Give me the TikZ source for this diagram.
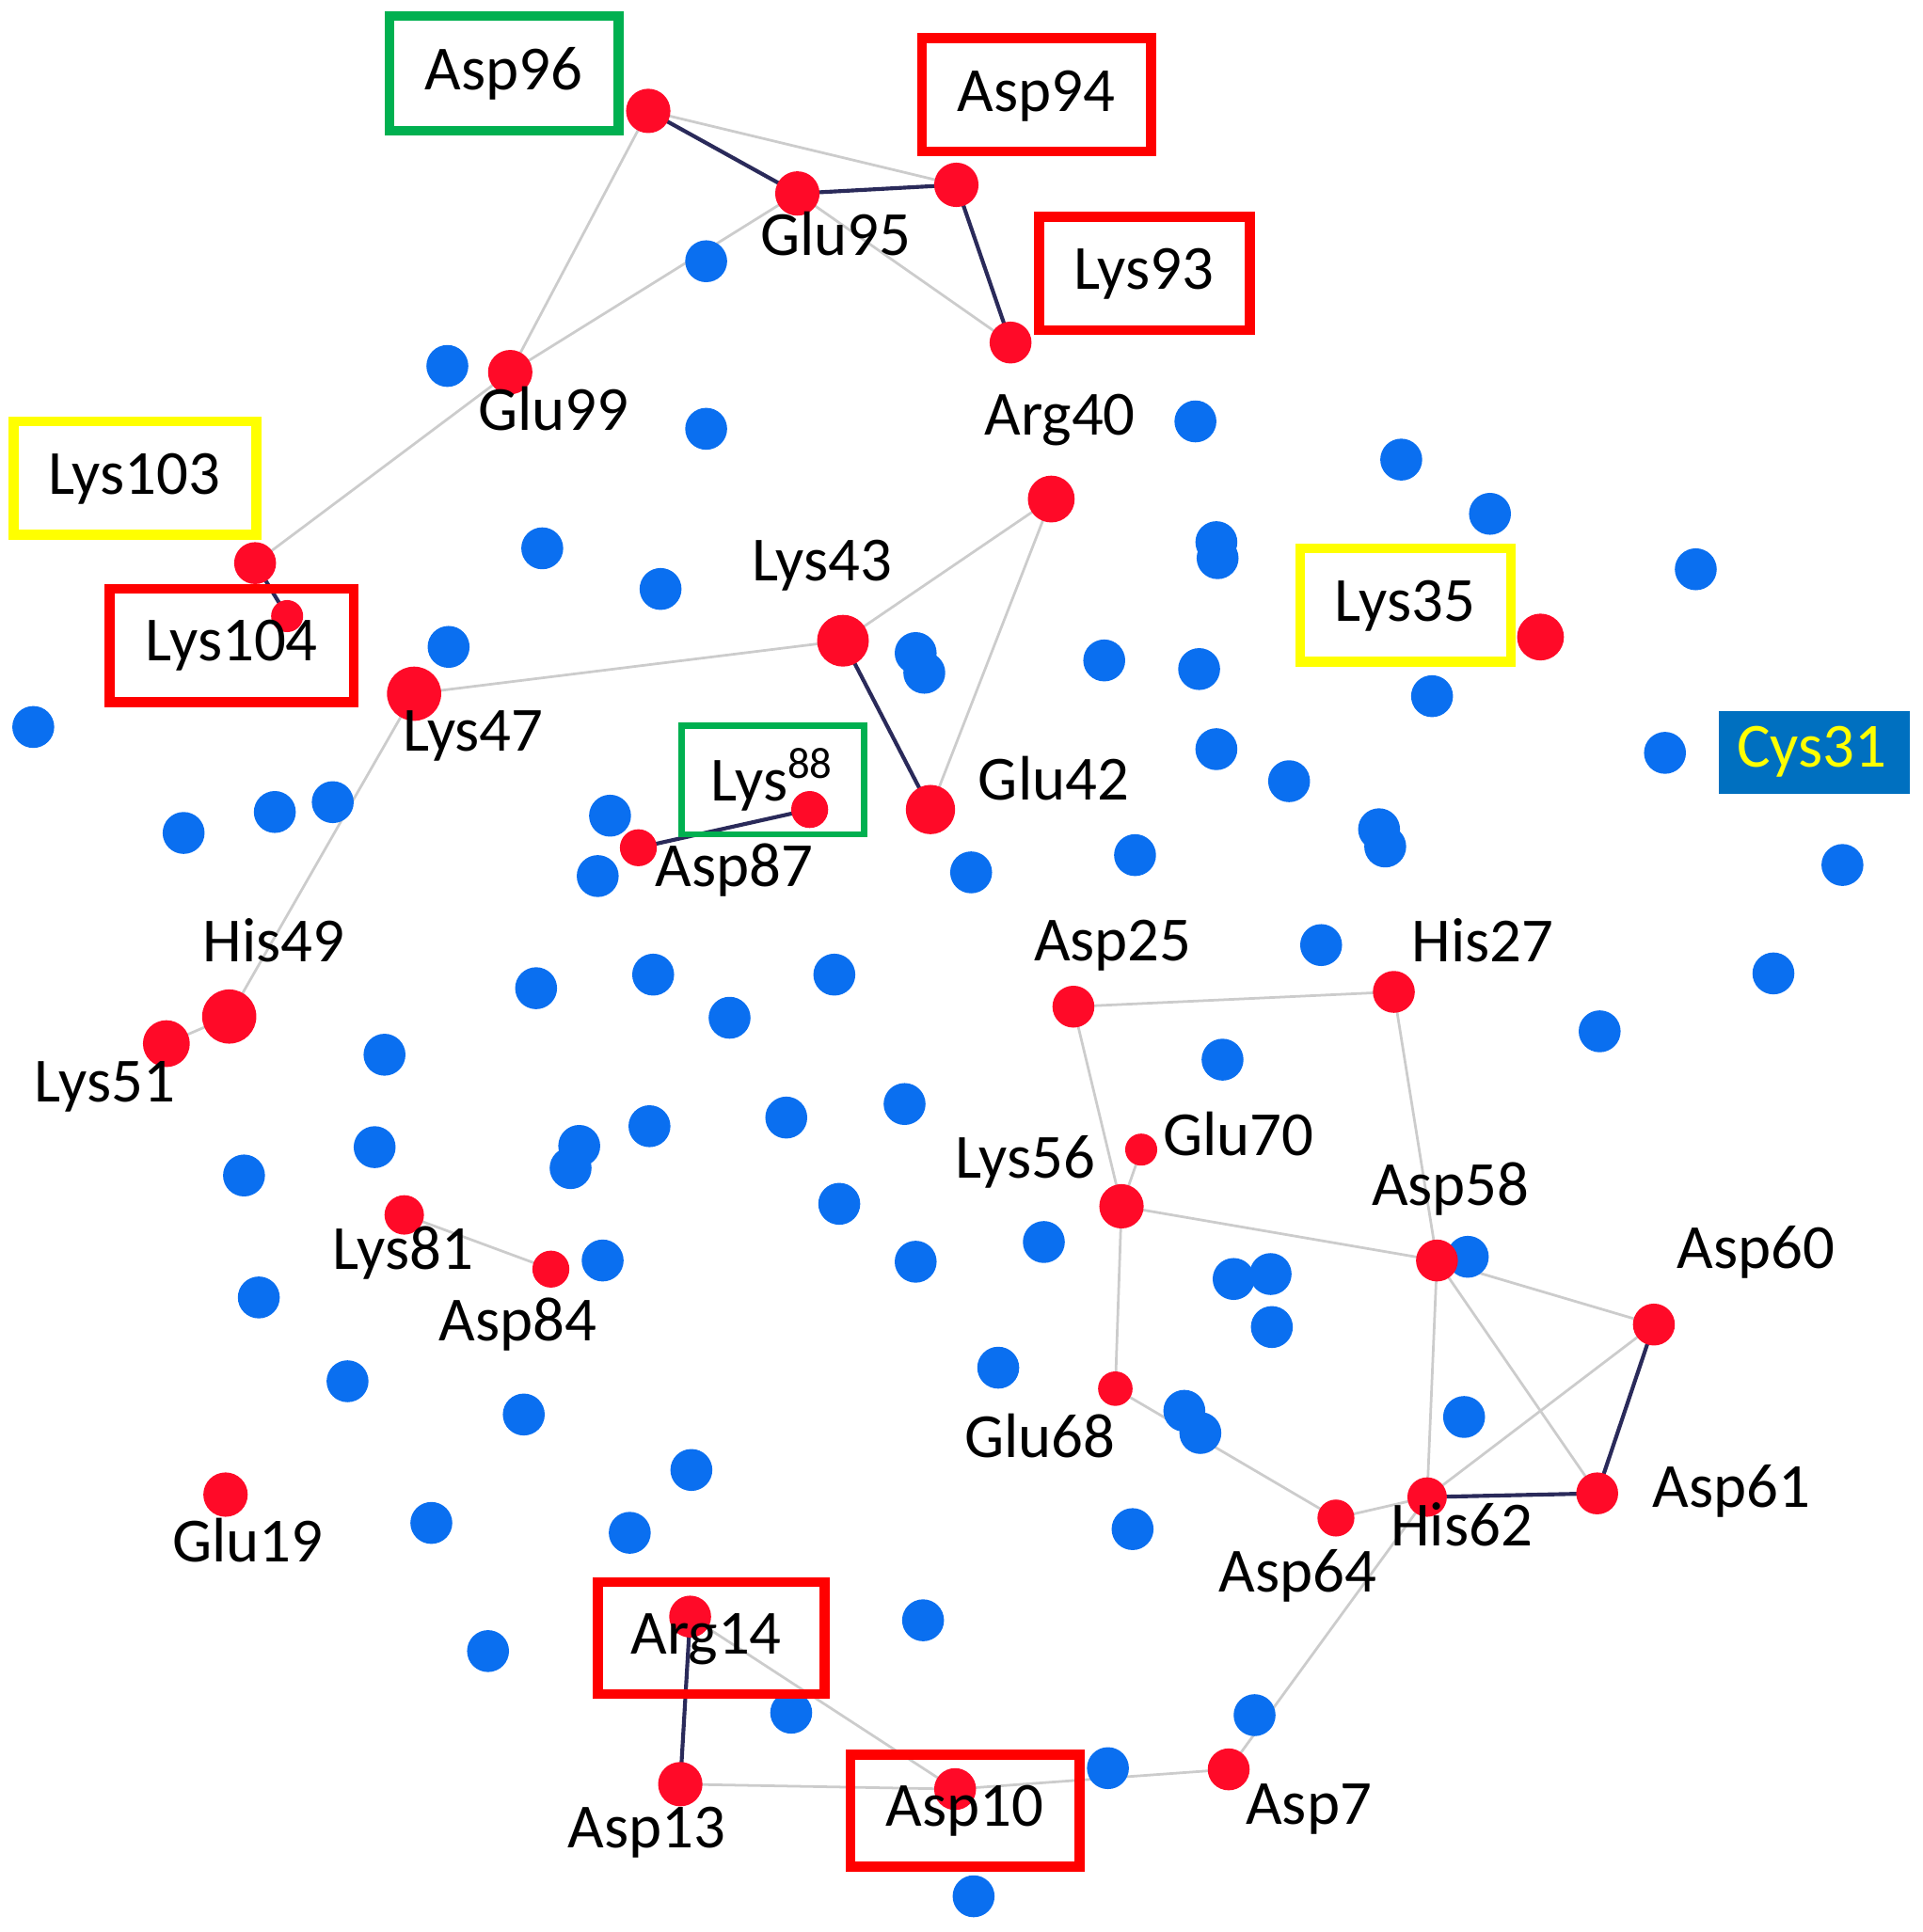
\documentclass[tikz,border=0pt]{standalone}
\usepackage{fontspec}
\setmainfont{Carlito}
\definecolor{dotred}{HTML}{FF0A28}
\definecolor{dotblue}{HTML}{0A6FF0}
\definecolor{boxred}{HTML}{FF0000}
\definecolor{boxgreen}{HTML}{00B050}
\definecolor{boxyellow}{HTML}{FFFF00}
\definecolor{cysblue}{HTML}{0070C0}
\definecolor{darkedge}{HTML}{2A2A5A}
\begin{document}
\begin{tikzpicture}[x=0.01cm,y=-0.01cm,
  red/.style={circle,fill=dotred,inner sep=0pt,minimum size=36\pgflinewidth*0+0.36cm},
  blue/.style={circle,fill=dotblue,inner sep=0pt,minimum size=0.34cm},
  lt/.style={draw=black!20,line width=0.6pt},
  dk/.style={draw=darkedge,line width=0.9pt},
  lab/.style={font=\fontsize{14.5}{16}\selectfont,inner sep=0pt},
  bx/.style={line width=0.08cm,inner sep=0pt}]
\useasboundingbox (0,0) rectangle (1560,1568);
% red nodes
\foreach \n/\x/\y/\s in {Asp96/526/90/36,Glu95/647/157/36,Asp94/776/150/36,Lys93/820/278/34,Glu99/414/302/36,Lys103/207/457/34,Lys104/233/500/26,Lys47/336/563/44,Lys43/684/520/42,Arg40/853/405/38,Glu42/755/657/40,Lys88/657/657/30,Asp87/518/688/30,Lys35/1250/517/38,His49/186/825/44,Lys51/135/847/38,Asp25/871/817/34,His27/1131/805/34,Glu70/926/933/26,Lys56/910/979/36,Asp58/1166/1023/34,Asp60/1342/1075/34,Lys81/328/986/32,Asp84/447/1030/30,Glu68/905/1127/28,Asp61/1296/1212/34,His62/1158/1215/32,Asp64/1084/1232/30,Glu19/183/1213/36,Arg14/560/1312/34,Asp13/552/1448/36,Asp10/775/1452/34,Asp7/997/1436/34}
  \coordinate (\n) at (\x,\y);
% edges
\foreach \a/\b in {Asp96/Asp94,Asp96/Glu99,Glu99/Glu95,Glu95/Lys93,Glu99/Lys103,Lys47/Lys43,Lys43/Arg40,Arg40/Glu42,Lys47/His49,His49/Lys51,Asp25/His27,Asp25/Lys56,His27/Asp58,Lys56/Glu70,Lys56/Asp58,Lys56/Glu68,Glu68/Asp64,Asp64/His62,Asp58/Asp60,Asp58/His62,Asp58/Asp61,Asp60/His62,His62/Asp7,Asp7/Asp10,Asp10/Asp13,Arg14/Asp10,Lys81/Asp84}
  \draw[lt] (\a) -- (\b);
\foreach \a/\b in {Asp96/Glu95,Glu95/Asp94,Asp94/Lys93,Lys103/Lys104,Lys43/Glu42,Asp87/Lys88,Asp60/Asp61,His62/Asp61,Asp13/Arg14}
  \draw[dk] (\a) -- (\b);
% blue dots
\foreach \x/\y [count=\i] in {573/212,363/297,573/348,970/342,1137/373,1209/417,440/445,536/478,987/440,988/453,1376/462,364/525,743/530,750/546,896/536,973/543,1162/565,27/590,987/608,1351/611,1046/634,149/676,223/659,270/651,495/662,485/711,788/708,921/694,1119/673,1124/687,1495/702,1072/767,435/802,530/791,592/826,677/791,1439/790,1298/837,312/856,992/860,638/907,734/896,527/914,304/931,198/954,470/930,463/948,681/977,847/1008,743/1024,489/1023,210/1053,1001/1038,1031/1034,1191/1020,1032/1077,810/1110,282/1121,425/1148,961/1145,974/1163,1188/1150,561/1193,350/1236,511/1244,919/1241,749/1315,396/1340,642/1390,1018/1392,899/1435,790/1539}
  \node[blue] (b\i) at (\x,\y) {};
\foreach \n/\x/\y/\s in {Asp96/526/90/36,Glu95/647/157/36,Asp94/776/150/36,Lys93/820/278/34,Glu99/414/302/36,Lys103/207/457/34,Lys104/233/500/26,Lys47/336/563/44,Lys43/684/520/42,Arg40/853/405/38,Glu42/755/657/40,Lys88/657/657/30,Asp87/518/688/30,Lys35/1250/517/38,His49/186/825/44,Lys51/135/847/38,Asp25/871/817/34,His27/1131/805/34,Glu70/926/933/26,Lys56/910/979/36,Asp58/1166/1023/34,Asp60/1342/1075/34,Lys81/328/986/32,Asp84/447/1030/30,Glu68/905/1127/28,Asp61/1296/1212/34,His62/1158/1215/32,Asp64/1084/1232/30,Glu19/183/1213/36,Arg14/560/1312/34,Asp13/552/1448/36,Asp10/775/1452/34,Asp7/997/1436/34}
  \node[circle,fill=dotred,inner sep=0pt,minimum size=\s*0.01cm] (d\n) at (\n) {};
% boxes
\draw[bx,boxgreen] (316,13) rectangle (502,106);
\draw[bx,boxred] (748,31) rectangle (934,123);
\draw[bx,boxred] (843,176) rectangle (1014,268);
\draw[bx,boxyellow] (11,342) rectangle (208,434);
\draw[bx,boxred] (89,478) rectangle (287,570);
\draw[boxgreen,line width=0.05cm] (553,589) rectangle (701,677);
\draw[bx,boxyellow] (1055,445) rectangle (1226,537);
\fill[cysblue] (1395,577) rectangle (1550,644);
\draw[bx,boxred] (485,1284) rectangle (669,1375);
\draw[bx,boxred] (690,1424) rectangle (876,1515);
% labels
\foreach \t/\x/\y in {Asp96/409/60,Asp94/841/78,Glu95/678/190,Lys93/928/222,Glu99/449/332,Arg40/860/341,Lys103/109/389,Lys104/188/524,Lys43/667/459,Lys47/384/597,Glu42/855/632,Asp87/596/706,Lys35/1140/492,His49/222/763,Lys51/85/882,Asp25/903/767,His27/1203/763,Glu70/1005/920,Lys56/832/943,Asp58/1177/965,Asp60/1425/1016,Lys81/327/1017,Asp84/420/1075,Glu68/844/1165,Asp61/1405/1210,His62/1186/1237,Asp64/1053/1279,Glu19/201/1250,Arg14/573/1330,Asp13/525/1487,Asp10/783/1470,Asp7/1062/1468}
  \node[lab] (l\t) at (\x,\y) {\t};
\node[lab] (lLys88) at (627,633) {Lys\textsuperscript{88}};
\node[lab,text=boxyellow] (lCys31) at (1470,610) {Cys31};
\end{tikzpicture}
\end{document}
